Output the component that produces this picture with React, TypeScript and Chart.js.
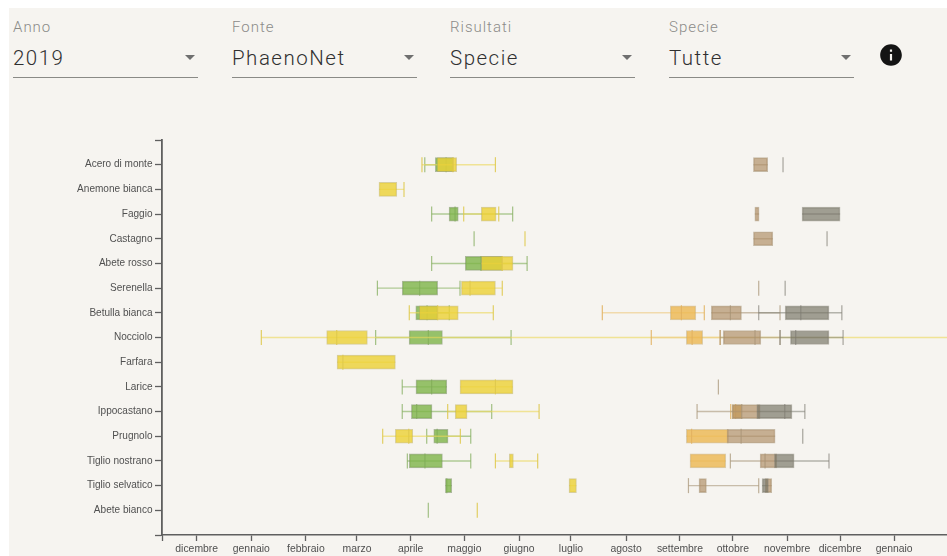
import React, { useEffect, useRef } from "react";
import { Chart, registerables } from "chart.js";

Chart.register(...registerables);

const species = [
  "Acero di monte", "Anemone bianca", "Faggio", "Castagno", "Abete rosso",
  "Serenella", "Betulla bianca", "Nocciolo", "Farfara", "Larice",
  "Ippocastano", "Prugnolo", "Tiglio nostrano", "Tiglio selvatico", "Abete bianco",
];

const monthLabels = ["dicembre", "gennaio", "febbraio", "marzo", "aprile", "maggio", "giugno", "luglio", "agosto", "settembre", "ottobre", "novembre", "dicembre", "gennaio"];
const monthDays = [-31, 0, 31, 60, 90.5, 121, 152, 181.5, 212.8, 243.4, 273.4, 304.2, 334.3, 365];

// [row, low whisker, q1, median, q3, high whisker], in days from 1 January
type Stat = [number, number | null, number, number | null, number, number | null];

const greenStats: Stat[] = [
  [0, 98.5, 104.5, 110.6, 114.8, null],
  [2, 102.4, 112.3, 115.7, 117.5, 148.4],
  [3, null, 126.5, 126.5, 126.5, null],
  [4, 102.4, 121.5, 130.4, 142.5, 156.6],
  [5, 71.6, 85.7, 95.6, 105.8, 118.5],
  [6, null, 93.4, 99.8, 105.8, 112.4],
  [7, 70.6, 89.6, 100.5, 108.5, 147.5],
  [9, 85.7, 93.5, 102.4, 111, null],
  [10, 85.7, 90.9, 93.9, 102.6, 136.5],
  [11, 99.6, 103.6, 105.5, 111.7, 124.6],
  [12, 88.6, 89.7, 98.6, 108.5, 124.6],
  [13, null, 110.2, 111, 113.8, null],
  [14, null, 100.5, 100.5, 100.5, null],
];

const yellowStats: Stat[] = [
  [0, 96.9, 105.5, 114.5, 116.6, 138.6],
  [1, null, 72.5, null, 82.6, 86.7],
  [2, 120.6, 130.6, null, 139, 140.5],
  [3, null, 155.4, 155.4, 155.4, null],
  [4, null, 130.6, 142.5, 148.6, null],
  [5, null, 119.3, 124.2, 138.6, 142.5],
  [6, 89.7, 95.4, 105.8, 117.5, 137.4],
  [7, 5.7, 42.8, 48.5, 65.9, 420],
  [8, null, 48.7, 52, 81.8, null],
  [9, null, 118.5, 138.6, 148.6, null],
  [10, 111.5, 115.8, null, 122.5, 163.4],
  [11, 74.6, 81.8, 89.4, 91.7, 118.7],
  [12, 138.6, 146.5, null, 148.8, 162.6],
  [13, null, 180.4, null, 184.6, null],
  [14, null, 128.3, 128.3, 128.3, null],
];

const orangeStats: Stat[] = [
  [6, 199.3, 237.9, 244.2, 252.4, 257.2],
  [7, 227.1, 247, 250.3, 256.3, 266.2],
  [10, 272.2, 273, 275, 278.5, null],
  [11, null, 247, 250, 270.9, null],
  [12, null, 249.1, null, 269.4, null],
];

const tanStats: Stat[] = [
  [0, null, 285.1, null, 293.2, null],
  [2, null, 285.9, null, 288.3, null],
  [3, null, 285.1, null, 296.1, null],
  [5, null, 288.1, 288.1, 288.1, null],
  [6, null, 261.2, 272, 278.3, 300.2],
  [7, 266.2, 268, 286, 289.3, 300.2],
  [9, null, 265.2, 265.2, 265.2, null],
  [10, 253.1, 273, 278.5, 288.9, null],
  [11, null, 270.1, 278.1, 297.4, null],
  [12, 272, 288.9, 291.7, 298.4, null],
  [13, 248.2, 254.2, null, 258.4, 288.1],
  [13, null, 291.7, null, 295.5, null],
];

const grayStats: Stat[] = [
  [0, null, 301.9, 301.9, 301.9, null],
  [2, null, 312.7, null, 334.3, null],
  [3, null, 326.9, 326.9, 326.9, null],
  [5, null, 303.1, 303.1, 303.1, null],
  [6, 288.1, 303.1, 312, 328, 335.3],
  [7, 300.2, 306.1, 309.1, 328, 336],
  [10, null, 287, 302.9, 307, 314.3],
  [11, null, 313.1, 313.1, 313.1, null],
  [12, null, 297, null, 308.2, 328],
  [13, null, 290, null, 293.6, null],
];

const filters = [
  { label: "Anno", value: "2019", x: 13 },
  { label: "Fonte", value: "PhaenoNet", x: 232 },
  { label: "Risultati", value: "Specie", x: 450 },
  { label: "Specie", value: "Tutte", x: 669 },
];

const phases = [
  { stats: greenStats, fill: "rgba(126,180,72,0.8)", line: "rgba(130,175,90,0.6)", edge: "rgba(110,135,85,0.55)", cap: "rgba(125,170,85,0.7)" },
  { stats: yellowStats, fill: "rgba(236,209,52,0.8)", line: "rgba(236,218,100,0.65)", edge: "rgba(190,175,90,0.55)", cap: "rgba(222,200,75,0.85)" },
  { stats: orangeStats, fill: "rgba(236,182,80,0.8)", line: "rgba(238,205,135,0.65)", edge: "rgba(195,170,115,0.55)", cap: "rgba(226,178,95,0.85)" },
  { stats: tanStats, fill: "rgba(175,142,101,0.68)", line: "rgba(175,158,130,0.65)", edge: "rgba(165,145,115,0.6)", cap: "rgba(165,145,115,0.7)" },
  { stats: grayStats, fill: "rgba(119,117,101,0.68)", line: "rgba(135,135,125,0.6)", edge: "rgba(130,127,115,0.55)", cap: "rgba(125,122,112,0.65)" },
];

function buildDatasets() {
  const out: any[] = [];
  let paint = 1000;
  for (const p of phases) {
    const lines: any[] = [];
    const boxes: any[] = [];
    const marks: any[] = [];
    for (const [row, low, q1, med, q3, hi] of p.stats) {
      lines.push({ x: low ?? q1, y: row }, { x: hi ?? q3, y: row }, { x: NaN, y: NaN });
      if (q3 > q1) boxes.push({ x: [q1, q3], y: row });
      if (low !== null) marks.push({ x: low, y: row });
      if (med !== null) marks.push({ x: med, y: row });
      if (hi !== null) marks.push({ x: hi, y: row });
    }
    out.push({
      type: "scatter", showLine: true, spanGaps: false, data: lines, order: paint--,
      borderColor: p.line, borderWidth: 1.4, pointRadius: 0, pointHoverRadius: 0,
    });
    out.push({
      type: "bar", indexAxis: "y", grouped: false, barThickness: 14, data: boxes, order: paint--,
      backgroundColor: p.fill, borderColor: p.edge, borderWidth: 1, borderSkipped: false,
    });
    out.push({
      type: "scatter", showLine: false, data: marks, order: paint--,
      pointStyle: "line", rotation: 90, pointRadius: 7.5, pointHoverRadius: 7.5,
      pointBorderColor: p.cap, pointBorderWidth: 1.2, pointBackgroundColor: p.cap,
    });
  }
  return out;
}

const axisColor = "#5f5f5f";
const xTickFont = { family: "'Liberation Sans', Arial, sans-serif", size: 10.4 };
const yTickFont = { family: "'Liberation Sans', Arial, sans-serif", size: 10.05 };

export default function App() {
  const ref = useRef<HTMLCanvasElement | null>(null);

  useEffect(() => {
    document.body.style.margin = "0";
    const chart = new Chart(ref.current as HTMLCanvasElement, {
      type: "bar",
      data: { datasets: buildDatasets() } as any,
      options: {
        animation: false,
        responsive: false,
        maintainAspectRatio: false,
        layout: { autoPadding: false, padding: { top: 140, left: 0, right: 0, bottom: 0 } },
        plugins: { legend: { display: false }, tooltip: { enabled: false }, title: { display: false } },
        scales: {
          x: {
            type: "linear",
            position: "bottom",
            offset: false,
            beginAtZero: false,
            min: -50.7,
            max: 395,
            border: { display: true, color: axisColor, width: 1.5 },
            grid: { offset: false, drawOnChartArea: false, drawTicks: true, tickLength: 6, tickColor: axisColor, tickWidth: 1.3 },
            afterBuildTicks: (s: any) => { s.ticks = [-50.7, ...monthDays].map((value) => ({ value })); },
            afterFit: (s: any) => { s.height = 21; },
            ticks: {
              autoSkip: false, maxRotation: 0, minRotation: 0, padding: 2, color: "#505050", font: xTickFont,
              callback: (_v: any, i: number) => (i === 0 ? "" : monthLabels[i - 1]),
            },
          },
          y: {
            type: "linear",
            position: "left",
            reverse: true,
            offset: false,
            beginAtZero: false,
            min: -1,
            max: 15,
            border: { display: true, color: axisColor, width: 1.8 },
            grid: { offset: false, drawOnChartArea: false, drawTicks: true, tickLength: 7, tickColor: axisColor, tickWidth: 1.3 },
            afterBuildTicks: (s: any) => {
              const vals = [-1, ...species.map((_n, i) => i), 15];
              s.ticks = vals.map((value) => ({ value }));
            },
            afterFit: (s: any) => { s.width = 162; },
            ticks: {
              autoSkip: false, padding: 2.5, color: "#505050", font: yTickFont,
              callback: (v: any) => species[Number(v)] ?? "",
            },
          },
        },
      } as any,
    });
    return () => chart.destroy();
  }, []);

  return (
    <div style={{ position: "fixed", left: 0, top: 0, width: 947, height: 556, background: "#fff", overflow: "hidden" }}>
      <div style={{ position: "absolute", left: 9, top: 8, right: 0, bottom: 0, background: "#f6f4f0" }} />
      {filters.map((f) => (
        <div key={f.label + f.x} style={{ position: "absolute", left: f.x, top: 0, width: 185, height: 77, borderBottom: "1.5px solid #8a8a86", fontFamily: "Roboto, sans-serif", fontWeight: 300 }}>
          <div style={{ position: "absolute", left: 0, top: 18, fontSize: 15, lineHeight: "18px", letterSpacing: 1, color: "#8b8b88", whiteSpace: "nowrap" }}>{f.label}</div>
          <div style={{ position: "absolute", left: 0, top: 45, fontSize: 20.5, lineHeight: "26px", letterSpacing: 1.5, color: "#303030", whiteSpace: "nowrap" }}>{f.value}</div>
          <div style={{ position: "absolute", left: 172, top: 55, width: 0, height: 0, borderLeft: "5px solid transparent", borderRight: "5px solid transparent", borderTop: "5px solid #6f6f6f" }} />
        </div>
      ))}
      <svg style={{ position: "absolute", left: 878, top: 42 }} width={26} height={26} viewBox="0 0 24 24">
        <path fill="#141414" d="M12 2C6.48 2 2 6.48 2 12s4.48 10 10 10 10-4.48 10-10S17.52 2 12 2zm1 15h-2v-6h2v6zm0-8h-2V7h2v2z" />
      </svg>
      <canvas ref={ref} width={947} height={556} style={{ position: "absolute", left: 0, top: 0, display: "block" }} />
    </div>
  );
}
